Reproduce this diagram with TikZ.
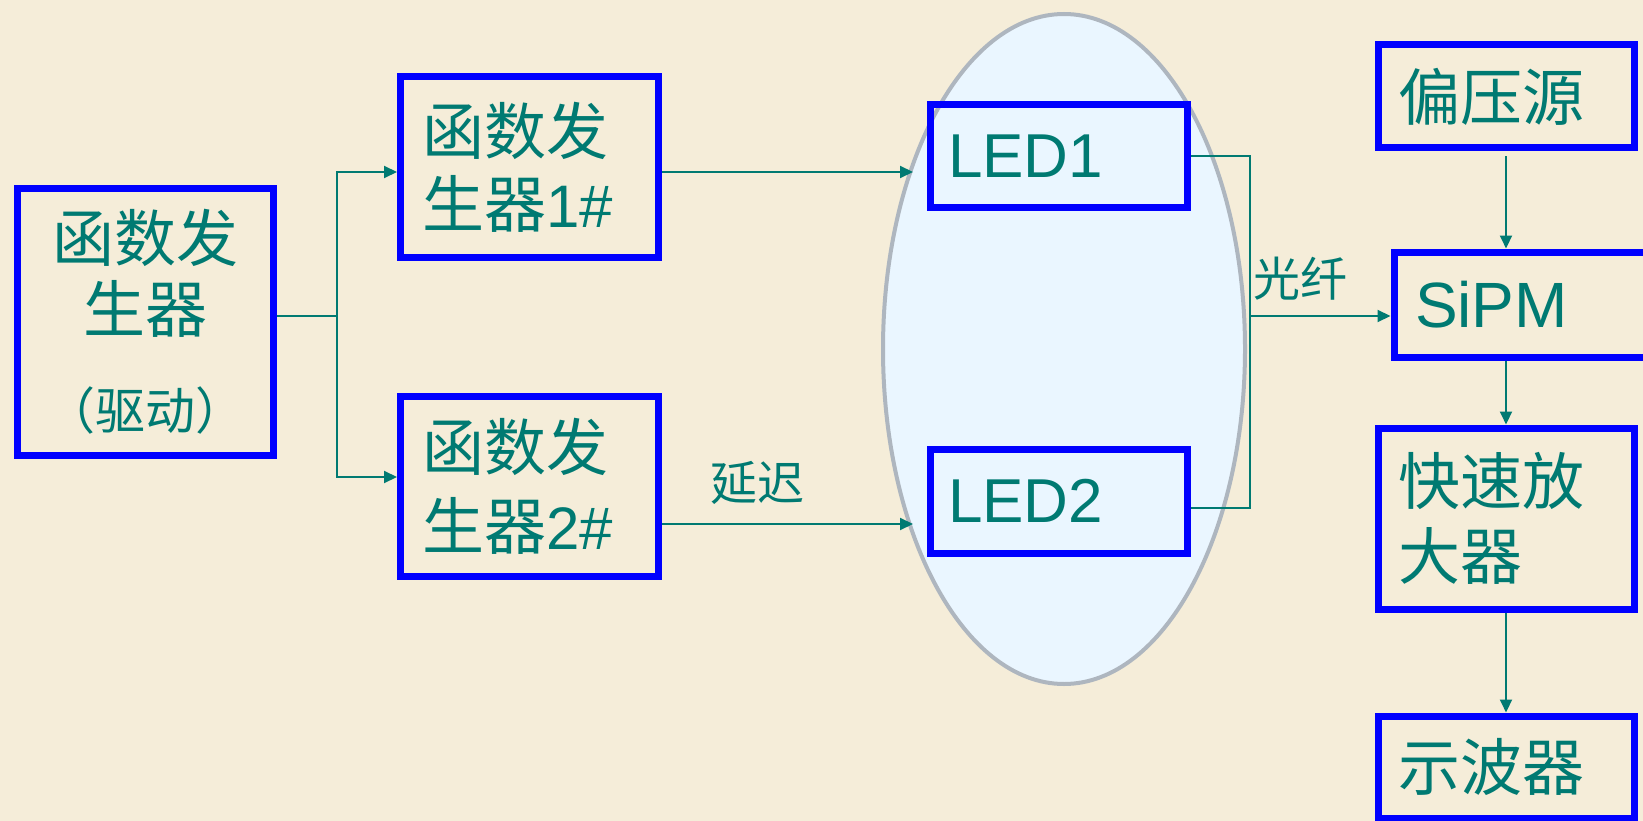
\documentclass[tikz,border=0pt]{standalone}
\usepackage{fontspec}
\setmainfont{Liberation Sans}
\newfontfamily\cjk{Noto Sans CJK SC}
\usetikzlibrary{arrows.meta,shapes.geometric}
\definecolor{bgcream}{HTML}{F5EDD9}
\definecolor{boxblue}{HTML}{0000FF}
\definecolor{tealtxt}{RGB}{0,122,114}
\definecolor{ellfill}{HTML}{EAF6FF}
\definecolor{elldraw}{HTML}{AEB6BF}
\tikzset{
  box/.style={draw=boxblue, line width=7pt, text=tealtxt, inner ysep=0pt, align=left},
  ln/.style={draw=tealtxt, line width=2pt},
  arr/.style={ln, -{Triangle[length=13pt,width=12pt]}},
  lbl/.style={text=tealtxt, inner sep=0pt},
}
\begin{document}
\begin{tikzpicture}[x=1pt,y=-1pt]
\clip (0,0) rectangle (1643,821);
\fill[bgcream] (0,0) rectangle (1643,821);

% ellipse holding the LEDs
\node[ellipse, draw=elldraw, fill=ellfill, line width=4pt, minimum width=362pt, minimum height=670pt, inner sep=0pt] (ell) at (1064,349) {};

% boxes
\node[box, align=center, text width=236pt, inner xsep=10pt, minimum height=266pt,
  font=\cjk\fontsize{62}{71}\selectfont] (drive) at (145,322)
  {函数发\\生器\\[26pt]{\fontsize{50}{71}\selectfont （驱动）}};
\node[box, text width=214pt, inner xsep=22pt, minimum height=181pt,
  font=\fontsize{60}{73}\selectfont] (f1) at (529.5,167)
  {{\cjk\fontsize{62}{73}\selectfont 函数发}\\{\cjk\fontsize{62}{73}\selectfont 生器}1\#};
\node[box, text width=214pt, inner xsep=22pt, minimum height=180pt,
  font=\fontsize{60}{79}\selectfont] (f2) at (529.5,486)
  {{\cjk\fontsize{62}{79}\selectfont 函数发}\\{\cjk\fontsize{62}{79}\selectfont 生器}2\#};
\node[box, text width=221pt, inner xsep=18pt, minimum height=103pt,
  font=\fontsize{62}{70}\selectfont] (led1) at (1058.5,156.5) {LED1};
\node[box, text width=221pt, inner xsep=18pt, minimum height=104pt,
  font=\fontsize{62}{70}\selectfont] (led2) at (1058.5,501) {LED2};
\node[box, text width=216pt, inner xsep=20pt, minimum height=103pt,
  font=\cjk\fontsize{62}{70}\selectfont] (bias) at (1506,96.5) {偏压源};
\node[box, text width=214pt, inner xsep=21pt, minimum height=105pt,
  font=\fontsize{64}{70}\selectfont] (sipm) at (1522,304.5) {SiPM};
\node[box, text width=216pt, inner xsep=20pt, minimum height=181pt,
  font=\cjk\fontsize{62}{75}\selectfont] (amp) at (1506,518.5) {快速放\\大器};
\node[box, text width=216pt, inner xsep=20pt, minimum height=102pt,
  font=\cjk\fontsize{62}{70}\selectfont] (scope) at (1506,767) {示波器};

% labels
\node[lbl, font=\cjk\fontsize{47}{47}\selectfont] (delay) at (757,483) {延迟};
\node[lbl, font=\cjk\fontsize{47}{47}\selectfont] (fiber) at (1300,279) {光纤};

% connectors
\coordinate (split) at (337,316);
\coordinate (in1) at (913,172);
\coordinate (in2) at (913,524);
\coordinate (fib) at (1250,316);

\draw[ln] (drive.east |- split) -- (split);
\draw[arr] (split) |- ([yshift=-5pt]f1.west);
\draw[arr] (split) |- ([yshift=9pt]f2.west);
\draw[arr] ([yshift=-5pt]f1.east) -- (in1);
\draw[arr] ([yshift=-38pt]f2.east) -- (in2);
\draw[ln] (led1.east) -| (fib);
\draw[ln] ([yshift=-7pt]led2.east) -| (fib);
\draw[arr] (fib) -- (sipm.west |- fib);
\draw[arr, shorten <=5pt] (bias.south) -- (bias.south |- sipm.north);
\draw[arr] (amp.north |- sipm.south) -- (amp.north);
\draw[arr] (amp.south) -- (scope.north);
\end{tikzpicture}
\end{document}
